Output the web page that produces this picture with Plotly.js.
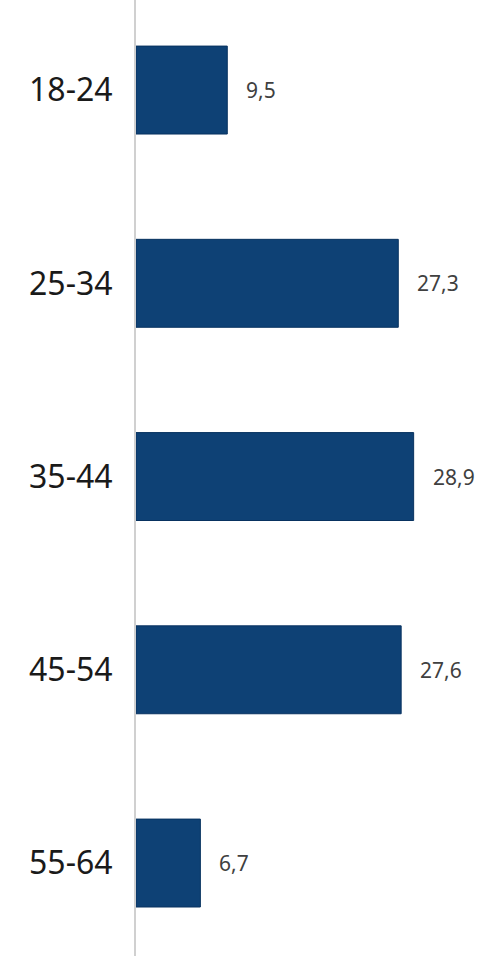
<!DOCTYPE html>
<html>
<head>
<meta charset="utf-8">
<script src="https://cdn.plot.ly/plotly-3.0.1.min.js"></script>
<style>html,body{margin:0;padding:0;background:#fff;}#chart{width:503px;height:956px;}</style>
</head>
<body>
<div id="chart"></div>
<script>
const categories = ["18-24", "25-34", "35-44", "45-54", "55-64"];
const values = [9.5, 27.3, 28.9, 27.6, 6.7];
const valueLabels = ["9,5", "27,3", "28,9", "27,6", "6,7"];

const pos = categories.map((c, i) => i);

const trace = {
  type: "bar",
  orientation: "h",
  x: values,
  y: pos,
  marker: { color: "#0e4175", line: { color: "#083260", width: 1 } },
  hoverinfo: "none"
};

const annotations = values.map((v, i) => ({
  x: v, y: pos[i], xref: "x", yref: "y",
  text: valueLabels[i], showarrow: false,
  xanchor: "left", xshift: 17,
  font: { family: "Noto Sans, Open Sans, sans-serif", size: 21, color: "#404040" }
}));

const layout = {
  width: 503, height: 956,
  margin: { l: 136, r: 0, t: 0, b: 0 },
  paper_bgcolor: "#ffffff", plot_bgcolor: "#ffffff",
  showlegend: false,
  bargap: 0.545,
  xaxis: { range: [0, 38.2], showgrid: false, zeroline: false, showticklabels: false, showline: false, fixedrange: true },
  yaxis: {
    range: [4.481, -0.466],
    tickvals: pos, ticktext: categories,
    showgrid: false, zeroline: false,
    showline: true, linecolor: "#d0d0d0", linewidth: 2,
    ticks: "", ticklabelstandoff: 15,
    tickfont: { family: "Noto Sans, Open Sans, sans-serif", size: 32, color: "#1a1a1a" }
  },
  annotations: annotations
};

Plotly.newPlot("chart", [trace], layout, { displayModeBar: false, staticPlot: true });
</script>
</body>
</html>
